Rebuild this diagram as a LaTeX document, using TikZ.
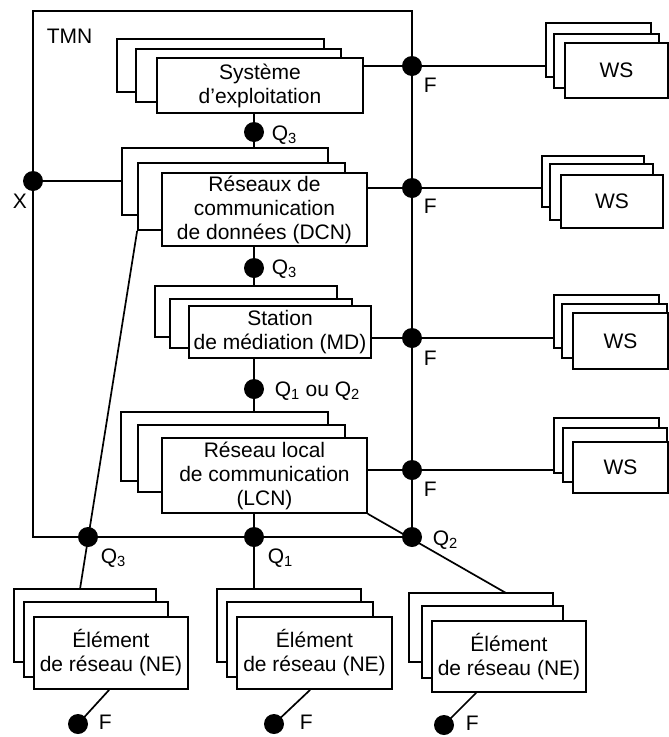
\documentclass[tikz,border=0pt]{standalone}
\usepackage{fontspec}
\setmainfont{Liberation Sans}
\newcommand{\dfont}{\fontsize{21}{24}\selectfont}
\begin{document}
\begin{tikzpicture}[x=1pt,y=-1pt,line width=1.7pt,
  box/.style={draw, fill=white, inner sep=0pt, align=center, font=\dfont},
  dot/.style={circle, fill=black, inner sep=0pt, minimum size=20pt},
  lab/.style={inner sep=0pt, font=\dfont, anchor=base west}]
\useasboundingbox (0,0) rectangle (669,737);

% TMN frame
\node[draw, inner sep=0pt, minimum width=379, minimum height=526] (frame) at (222.5,274) {};
\node[lab] (tmn) at (46,43) {TMN};

% Systeme d'exploitation
\node[box, minimum width=207, minimum height=53] (osb) at (220.5,65.5) {};
\node[box, minimum width=205, minimum height=53] (osm) at (238.5,75.5) {};
\node[box, minimum width=206, minimum height=55] (osf) at (260,85.5) {Système\\d’exploitation};

% DCN
\node[box, minimum width=206, minimum height=67] (dcnb) at (225,181.5) {};
\node[box, minimum width=207, minimum height=67] (dcnm) at (241.5,196.5) {};
\node[box, minimum width=205, minimum height=73] (dcnf) at (264.5,209.5) {Réseaux de\\communication\\de données (DCN)};

% MD
\node[box, minimum width=182, minimum height=51] (mdb) at (246,311.5) {};
\node[box, minimum width=182, minimum height=49] (mdm) at (261,323.5) {};
\node[box, minimum width=182, minimum height=52] (mdf) at (280,332) {Station\\de médiation (MD)};

% LCN
\node[box, minimum width=207, minimum height=69] (lcnb) at (224.5,446.5) {};
\node[box, minimum width=207, minimum height=67] (lcnm) at (241.5,458.5) {};
\node[box, minimum width=205, minimum height=75] (lcnf) at (264.5,475.5) {Réseau local\\de communication\\(LCN)};

% WS
\node[box, minimum width=105, minimum height=54] (ws1b) at (598.5,50) {};
\node[box, minimum width=105, minimum height=54] (ws1m) at (606.5,61) {};
\node[box, minimum width=103, minimum height=55] (ws1f) at (616.5,70.5) {WS};
\node[box, minimum width=102, minimum height=51] (ws2b) at (593,181.5) {};
\node[box, minimum width=103, minimum height=56] (ws2m) at (601.5,192) {};
\node[box, minimum width=102, minimum height=53] (ws2f) at (612,201.5) {WS};
\node[box, minimum width=105, minimum height=53] (ws3b) at (606.5,321.5) {};
\node[box, minimum width=105, minimum height=54] (ws3m) at (614.5,331) {};
\node[box, minimum width=95, minimum height=56] (ws3f) at (620.5,341) {WS};
\node[box, minimum width=105, minimum height=55] (ws4b) at (606.5,445.5) {};
\node[box, minimum width=104, minimum height=54] (ws4m) at (615,455) {};
\node[box, minimum width=95, minimum height=51] (ws4f) at (620.5,467.5) {WS};

% NE
\node[box, minimum width=142, minimum height=73] (ne1b) at (85,625.5) {};
\node[box, minimum width=144, minimum height=75] (ne1m) at (96,639.5) {};
\node[box, minimum width=154, minimum height=72] (ne1f) at (111,653) {Élément\\de réseau (NE)};
\node[box, minimum width=144, minimum height=73] (ne2b) at (289,625.5) {};
\node[box, minimum width=146, minimum height=75] (ne2m) at (300,639.5) {};
\node[box, minimum width=155, minimum height=72] (ne2f) at (314.5,653) {Élément\\de réseau (NE)};
\node[box, minimum width=144, minimum height=69] (ne3b) at (481,627.5) {};
\node[box, minimum width=141, minimum height=72] (ne3m) at (492.5,642) {};
\node[box, minimum width=154, minimum height=71] (ne3f) at (509,656.5) {Élément\\de réseau (NE)};

% dots
\node[dot] (f1) at (412,66) {};
\node[dot] (f2) at (412,188) {};
\node[dot] (f3) at (412,338) {};
\node[dot] (f4) at (412,470) {};
\node[dot] (x) at (33,181) {};
\node[dot] (qa) at (254,132) {};
\node[dot] (qb) at (254,268) {};
\node[dot] (qc) at (254,389) {};
\node[dot] (q3) at (88,537) {};
\node[dot] (q1) at (254,537) {};
\node[dot] (q2) at (412,537) {};
\node[dot] (nf1) at (78,724) {};
\node[dot] (nf2) at (274,724) {};
\node[dot] (nf3) at (444,725) {};

\coordinate (ne1top) at (80,589);
\coordinate (ne3top) at (506,593);

% connectors
\draw (osf.east |- f1) -- (f1.center) -- (f1 -| ws1b.west);
\draw (dcnf.east |- f2) -- (f2.center) -- (f2 -| ws2b.west);
\draw (mdf.east |- f3) -- (f3.center) -- (f3 -| ws3b.west);
\draw (lcnf.east |- f4) -- (f4.center) -- (f4 -| ws4b.west);
\draw (x.center) -- (x -| dcnb.west);
\draw (osf.south -| qa) -- (qa |- dcnb.north);
\draw (dcnf.south -| qb) -- (qb |- mdb.north);
\draw (mdf.south -| qc) -- (qc |- lcnb.north);
\draw (lcnf.south -| q1) -- (q1 |- ne2b.north);
\draw (dcnm.south west) -- (ne1top);
\draw (lcnf.south east) -- (ne3top);
\draw ([xshift=76pt]ne1f.south west) -- (nf1.center);
\draw ([xshift=74pt]ne2f.south west) -- (nf2.center);
\draw ([xshift=45pt]ne3f.south west) -- (nf3.center);

% labels
\node[lab] (lf1) at (423,92) {F};
\node[lab] (lf2) at (423,213) {F};
\node[lab] (lf3) at (423,365) {F};
\node[lab] (lf4) at (423,496) {F};
\node[lab] (lx) at (12,208) {X};
\node[lab] (lqa) at (271,140) {Q\textsubscript{3}};
\node[lab] (lqb) at (271,274) {Q\textsubscript{3}};
\node[lab] (lqc) at (274,396) {Q\textsubscript{1} ou Q\textsubscript{2}};
\node[lab] (lq3) at (100,563) {Q\textsubscript{3}};
\node[lab] (lq1) at (267,563) {Q\textsubscript{1}};
\node[lab] (lq2) at (432,545) {Q\textsubscript{2}};
\node[lab] (lnf1) at (98,729) {F};
\node[lab] (lnf2) at (299,729) {F};
\node[lab] (lnf3) at (465,730) {F};
\end{tikzpicture}
\end{document}
